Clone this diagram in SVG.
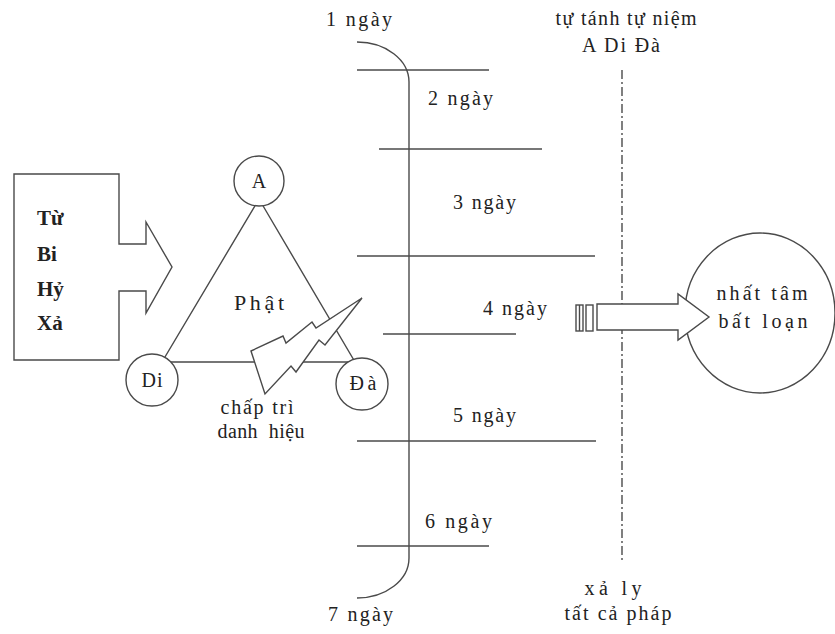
<svg xmlns="http://www.w3.org/2000/svg" width="835" height="634" viewBox="0 0 835 634">
<style>
.s{fill:none;stroke:#4a4a4a;stroke-width:1.4}
.w{fill:#fff;stroke:#4a4a4a;stroke-width:1.4}
.t{font-family:"Liberation Serif","DejaVu Serif","Times New Roman",serif;font-size:20px;fill:#222}
.b{font-family:"Liberation Serif","DejaVu Serif","Times New Roman",serif;font-size:21px;font-weight:bold;fill:#222}
.c{text-anchor:middle}
</style>
<rect width="835" height="634" fill="#fff"/>
<g id="tu-bi-hy-xa">
<path class="w" d="M14,174 H119 V244 H146 V222 L172,267 L146,313 V291 H119 V360 H14 Z"/>
<text class="b" x="37" y="225">Từ</text>
<text class="b" x="37" y="261">Bi</text>
<text class="b" x="37" y="296">Hỷ</text>
<text class="b" x="37" y="330">Xả</text>
</g>
<g id="triangle">
<path class="s" d="M259,199 L162,362 H355 Z"/>
<text class="t c" x="259" y="310" textLength="50" lengthAdjust="spacing" style="font-size:22px">Phật</text>
</g>
<g id="node-A"><circle class="w" cx="259" cy="181" r="25"/><text class="t c" x="259" y="188">A</text></g>
<g id="node-Di"><circle class="w" cx="152" cy="380" r="26"/><text class="t c" x="152" y="387" textLength="21" lengthAdjust="spacing">Di</text></g>
<g id="node-Da"><circle class="w" cx="362" cy="384" r="26"/><text class="t c" x="363" y="390" textLength="27" lengthAdjust="spacing">Đà</text></g>
<g id="bolt">
<polygon class="w" points="251,351 283,336 286,343 312,322 316,328 362,298 325,345 319,340 296,372 291,366 265,394"/>
</g>
<g id="chap-tri">
<text class="t c" x="257" y="414" textLength="73" lengthAdjust="spacing">chấp trì</text>
<text class="t c" x="261" y="438" xml:space="preserve" textLength="87" lengthAdjust="spacing">danh  hiệu</text>
</g>
<g id="connectors">
<path class="s" d="M357,42 A52,40 0 0 1 409,82 V558 A52,40 0 0 1 357,598"/>
<line class="s" x1="357" y1="70" x2="489" y2="70"/>
<line class="s" x1="379" y1="149" x2="542" y2="149"/>
<line class="s" x1="357" y1="256" x2="595" y2="256"/>
<line class="s" x1="383" y1="334" x2="516" y2="334"/>
<line class="s" x1="357" y1="441" x2="596" y2="441"/>
<line class="s" x1="357" y1="546" x2="489" y2="546"/>
<line class="s" x1="622" y1="70" x2="622" y2="563" stroke-dasharray="9 3 2 3" stroke-width="1.2"/>
</g>
<g id="days">
<text class="t" x="326" y="26" textLength="66" lengthAdjust="spacing">1 ngày</text>
<text class="t" x="428" y="105" textLength="65" lengthAdjust="spacing">2 ngày</text>
<text class="t" x="453" y="209" textLength="63" lengthAdjust="spacing">3 ngày</text>
<text class="t" x="483" y="315" textLength="64" lengthAdjust="spacing">4 ngày</text>
<text class="t" x="453" y="422" textLength="63" lengthAdjust="spacing">5 ngày</text>
<text class="t" x="425" y="528" textLength="67" lengthAdjust="spacing">6 ngày</text>
<text class="t" x="328" y="621" textLength="65" lengthAdjust="spacing">7 ngày</text>
</g>
<g id="tu-tanh">
<text class="t c" x="626" y="25" textLength="141" lengthAdjust="spacing">tự tánh tự niệm</text>
<text class="t c" x="621" y="52" textLength="78" lengthAdjust="spacing">A Di Đà</text>
</g>
<g id="xa-ly">
<text class="t c" x="613" y="595" textLength="57" lengthAdjust="spacing">xả ly</text>
<text class="t c" x="618" y="620" textLength="107" lengthAdjust="spacing">tất cả pháp</text>
</g>
<g id="nhat-tam">
<ellipse class="w" cx="760" cy="313" rx="75" ry="80"/>
<text class="t c" x="762" y="300" textLength="91" lengthAdjust="spacing">nhất tâm</text>
<text class="t c" x="763" y="328" textLength="89" lengthAdjust="spacing">bất loạn</text>
</g>
<g id="big-arrow">
<rect class="w" x="576" y="305" width="7" height="26" stroke-width="1.1"/>
<line class="s" x1="579.5" y1="305" x2="579.5" y2="331" stroke-width="1"/>
<rect class="w" x="586" y="305" width="7" height="26" stroke-width="1.1"/>
<path class="w" d="M597,304 H678 V294 L709,317 L678,340 V330 H597 Z"/>
</g>
</svg>
